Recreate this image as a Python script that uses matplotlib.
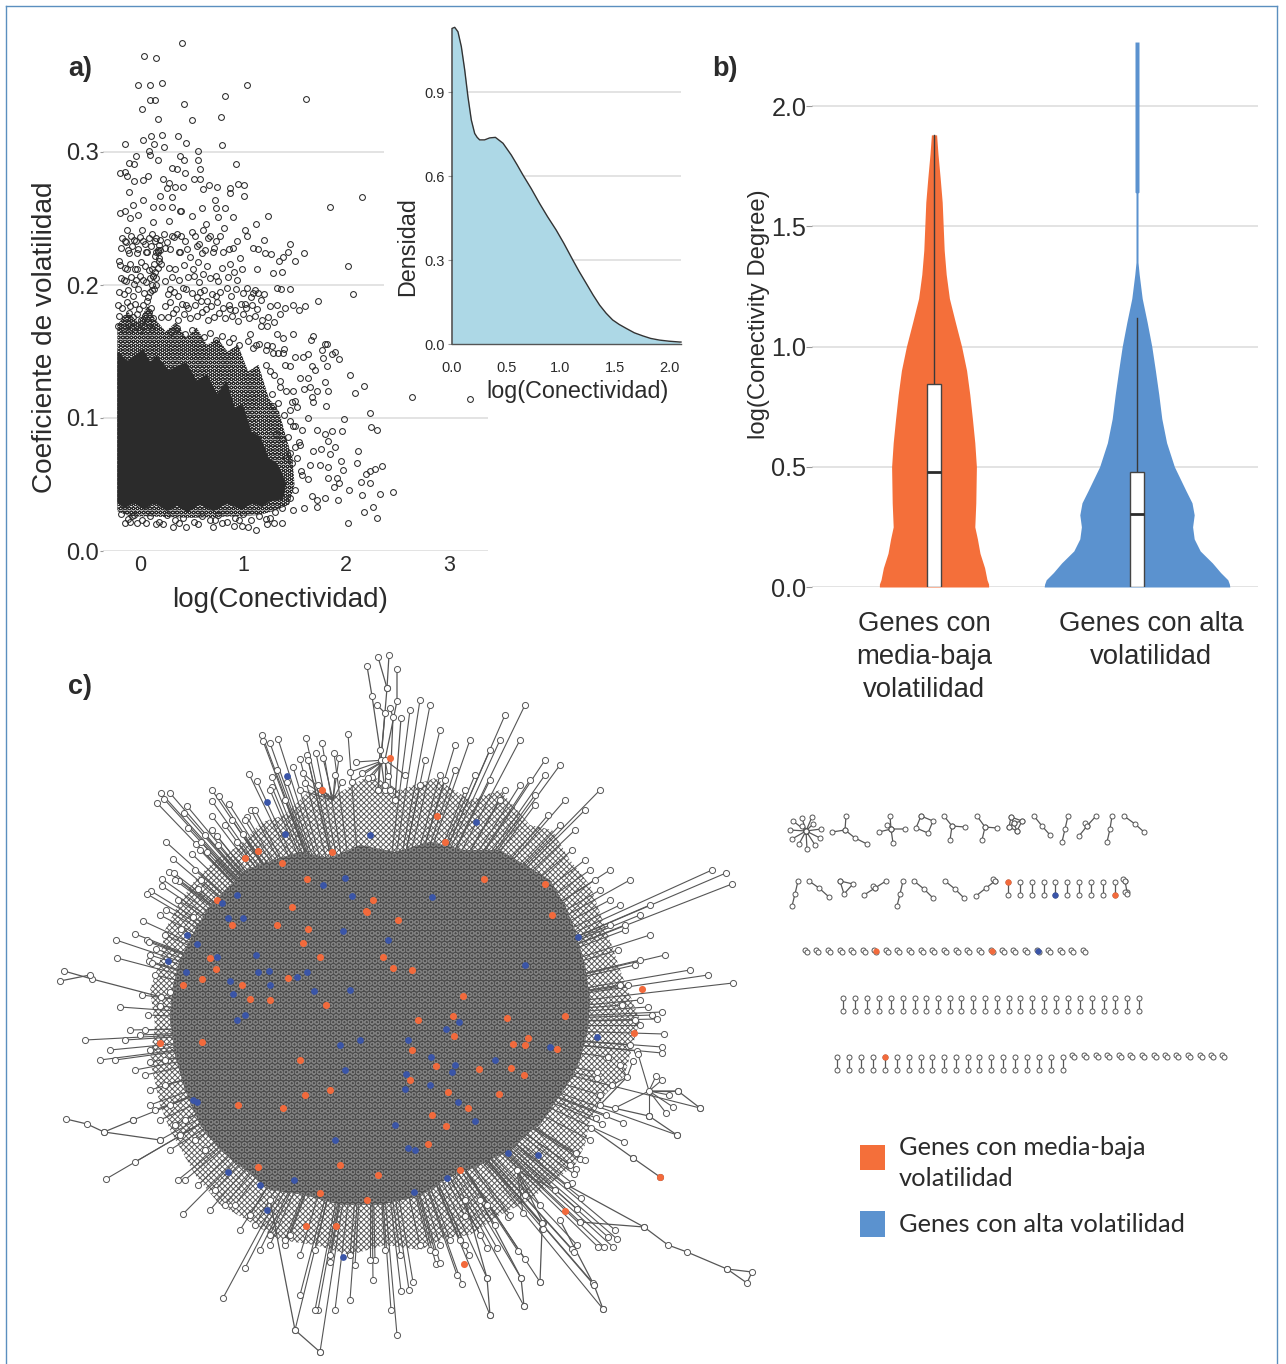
import numpy as np
import matplotlib
matplotlib.use('Agg')
import matplotlib.pyplot as plt
from matplotlib.patches import Polygon, Rectangle
from matplotlib.lines import Line2D
from matplotlib.collections import LineCollection

W, H = 1286, 1364
plt.rcParams['font.family'] = ['Liberation Sans', 'DejaVu Sans']
plt.rcParams['hatch.linewidth'] = 0.7

ORANGE = '#f46f3a'
BLUE = '#5b92cf'
NODE_BLUE = '#3a55a8'
DARK = '#2b2b2b'
GRID = '#dedede'

#### a) scatter, sparse points
scatter_x = [.41,.04,.16,-.02,.10,.21,1.04,.83,1.61,.10,.15,.02,.43,.17,.50,.79,.03,.11,.21,.37,.45,-.15,.14,.23,.80,.56,.09,-.04,.10,.39,.43,.56,.17,.93,
             -.11,-.06,.31,.36,.44,.58,-.19,-.15,-.13,-.06,.03,.08,.22,.28,.52,.58,
             2.155,1.84,2.02,2.065,2.64,3.2,2.04,2.17,2.09,2.23,1.98,2.24,2.30,1.96,2.12,2.11,2.35,2.28,2.23,2.19,2.15,2.23,2.46,2.33,2.16,2.03,1.92,2.26,2.17,2.30,2.02,
             1.73,1.59,1.46,1.44,1.39,1.35,1.50,1.38,1.29,1.20,1.13,1.24,1.10,1.15,1.21,1.27,1.14,
             1.46,1.33,1.37,1.49,1.60,1.41,1.33,1.54,1.36,
             1.80,1.82,1.68,1.66,1.89,1.86,1.77,1.93,1.78,1.82,1.63,1.58,1.50,1.67,1.70,1.46,1.41,1.63,1.55,1.80,1.72,1.83,1.65,1.59,1.49,1.67,1.81,1.68,1.50,1.63,1.72,1.80,1.86,1.83,1.89,1.76,1.68,1.84,1.75,1.83,1.95,1.97,1.63,1.83,1.91,1.93,1.88,1.80,1.67,1.72,1.72,1.59,1.49,1.38,1.23,1.13,1.05,.99,.91,.73,.71,.45,.32,.16,-.03,-.10,1.38,1.31,
             .60,.74,.83,.76,.90,.64,.50,.61,.68,.78,.82,.94,.86,.71,.60,.49,.97,.91,.74,.61,.47,.34,.39,.29,.31,.36,.40,.28,.39,.50,
             .67,.75,.87,.95,1.01,1.01,.87,.73,.61,.42,.34,.26,.31,.19,.03,-.07,-.11,-.19,-.15,-.10,-.02,.13,.21,.31,.40,-.13,.02,.13,.23,-.15,-.06,.03,.15,-.20,-.11,-.03,.06,.16,.18,-.13,-.03,-.16,-.06,.03,.13,
             1.02,1.04,.84,1.04,1.10,1.15,1.17,1.02,.87,.74,.58,.42,.29,.65,.45,
             1.17,1.23,1.33,1.39,1.49,1.23,1.13,1.07,1.29,1.39,1.26,1.36,1.46,1.29,1.49,1.57,1.55,1.46,1.65,1.57]
scatter_y = [.382,.372,.371,.350,.350,.352,.350,.342,.340,.339,.339,.332,.336,.325,.324,.326,.309,.312,.313,.312,.307,.306,.306,.304,.305,.301,.301,.297,.298,.297,.294,.294,.294,.291,
             .292,.291,.288,.287,.284,.287,.284,.285,.282,.278,.279,.282,.280,.277,.280,.280,
             .266,.259,.214,.193,.116,.114,.132,.124,.119,.104,.099,.093,.091,.090,.075,.066,.064,.062,.060,.058,.052,.051,.044,.043,.042,.046,.038,.033,.029,.025,.021,
             .188,.224,.231,.225,.221,.218,.218,.210,.209,.234,.246,.252,.228,.227,.224,.223,.212,
             .197,.198,.197,.185,.184,.183,.185,.181,.178,
             .156,.156,.162,.159,.150,.148,.151,.144,.145,.139,.148,.146,.146,.139,.136,.139,.140,.130,.130,.127,.120,.120,.123,.122,.120,.116,.109,.112,.113,.100,.091,.088,.090,.083,.078,.077,.075,.073,.065,.063,.068,.061,.054,.055,.055,.051,.048,.040,.041,.038,.033,.032,.031,.021,.020,.016,.018,.019,.019,.023,.018,.018,.018,.020,.021,.022,.032,.029,
             .258,.258,.258,.251,.251,.246,.252,.241,.237,.237,.243,.233,.227,.225,.224,.221,.220,.210,.207,.208,.206,.212,.225,.227,.237,.238,.237,.248,.256,.240,
             .275,.274,.273,.276,.275,.267,.269,.264,.272,.274,.274,.273,.266,.267,.264,.260,.270,.254,.256,.250,.253,.259,.259,.259,.256,.241,.241,.247,.238,.233,.234,.233,.233,.218,.224,.224,.225,.225,.220,.212,.212,.204,.201,.204,.207,
             .241,.237,.198,.198,.194,.194,.189,.186,.182,.192,.195,.198,.197,.188,.185,
             .169,.169,.163,.160,.163,.155,.155,.163,.149,.149,.135,.123,.106,.109,.094,.091,.080,.074,.065,.057]
# busier zone above the solid part
busy_x = [-.17,-.14,-.09,-.04,.0,.05,.09,.12,.19,.26,.33,.44,.53,.57,.66,.74,-.18,-.12,-.08,-.02,.07,.11,.17,.24,.38,.46,.55,.63,.72,.81,.9,
          -.19,-.15,-.1,-.05,.01,.05,.09,.2,.28,.43,.51,.56,.65,.8,.87,.99,-.18,-.14,-.09,-.04,.0,.06,.1,.24,.31,.38,.52,.57,.68,.76,.85,.94,
          -.2,-.16,-.12,-.07,-.02,.04,.08,.12,.27,.33,.37,.45,.5,.55,.62,.7,.78,.88,.93,1.0,1.08,1.12,1.2,
          -.21,-.17,-.13,-.1,-.05,-.01,.03,.07,.11,.24,.29,.35,.41,.47,.53,.59,.64,.69,.75,.81,.86,.92,.98,1.03,1.09,1.14,1.26,
          -.2,-.15,-.11,-.07,-.03,.01,.05,.09,.13,.27,.32,.37,.43,.49,.55,.6,.66,.72,.77,.83,.89,.95,1.0,1.06,1.12,1.18,1.24,1.3,
          -.21,-.16,-.12,-.08,-.04,0,.04,.08,.12,.2,.3,.36,.44,.5,.62,.68,.74,.8,.86,.9,.96,1.05,1.1,1.16,1.22,1.28,1.34,1.4,
          .16,.18,.17,.15,.18,.17,.15,.13,.16,.12,.14,.1,.19,.14,.16,.12,
          -.18,-.12,-.06,.02,.1,.18,.26,.34,.42,.52,.6,.68,.76,.84,.92,1.0,1.08,1.16,1.22,1.3,-.15,-.08,.06,.22,.38,.56,.8,.96,1.26,
          1.22,1.3,1.36,1.42,1.48,1.52,1.28,1.34,1.4,1.46,1.5,1.32,1.38,1.44,1.5,1.54,1.42,1.48,1.52,1.56,1.5,1.46]
busy_y = [.235,.232,.237,.233,.236,.231,.235,.238,.234,.232,.236,.233,.237,.231,.235,.233,.228,.226,.229,.227,.225,.229,.226,.228,.225,.227,.229,.226,.228,.225,.228,
          .215,.213,.216,.212,.217,.214,.211,.216,.213,.215,.212,.217,.214,.213,.216,.212,.205,.203,.206,.204,.207,.202,.205,.203,.206,.204,.207,.202,.205,.203,.206,.204,
          .195,.193,.196,.192,.197,.194,.191,.196,.193,.195,.192,.197,.194,.191,.196,.193,.195,.192,.197,.194,.191,.196,.193,
          .185,.183,.187,.184,.186,.182,.185,.188,.183,.184,.187,.182,.186,.183,.185,.188,.182,.184,.187,.183,.185,.181,.186,.183,.185,.182,.184,
          .177,.175,.179,.176,.178,.174,.177,.18,.175,.176,.179,.174,.178,.175,.177,.18,.174,.176,.179,.175,.177,.173,.178,.175,.177,.174,.176,.172,
          .169,.167,.171,.168,.17,.166,.169,.172,.167,.176,.165,.168,.163,.166,.161,.164,.159,.162,.157,.16,.155,.158,.153,.156,.151,.154,.149,.152,
          .235,.23,.225,.222,.218,.213,.21,.207,.205,.2,.197,.195,.226,.216,.2,.212,
          .028,.024,.027,.023,.026,.022,.027,.023,.025,.022,.026,.023,.027,.022,.025,.028,.023,.026,.024,.021,.021,.026,.021,.02,.021,.02,.021,.023,.025,
          .14,.132,.128,.12,.112,.108,.118,.111,.102,.098,.094,.088,.084,.086,.078,.082,.07,.066,.07,.06,.046,.04]

# outlines of the areas where the points merge together
core_x = [-.22,-.22,-.12,.03,.1,.16,.28,.45,.55,.65,.75,.84,.92,1.0,1.08,1.17,1.25,1.33,1.38,1.42,1.39,1.25,1.18,1.10,.98,.85,.71,.58,.46,.36,.26,.14,.04,-.06,-.15]
core_y = [.036,.150,.143,.152,.142,.147,.136,.142,.128,.133,.118,.128,.108,.110,.09,.086,.07,.066,.058,.051,.039,.037,.033,.036,.031,.036,.03,.035,.029,.034,.03,.036,.031,.036,.032]
dense_x = [-.22,-.22,-.12,-.02,.08,.14,.25,.35,.45,.55,.65,.75,.85,.95,1.05,1.15,1.25,1.35,1.42,1.48,1.5,1.45,1.3,1.15,.9,.5,.1,-.1]
dense_y = [.03,.17,.18,.172,.185,.175,.165,.172,.16,.168,.155,.16,.15,.155,.135,.14,.115,.105,.085,.07,.05,.035,.03,.027,.026,.025,.026,.026]

a_ticks_y = [0.0, 0.1, 0.2, 0.3]
a_ticks_x = [0, 1, 2, 3]

#### a) inset density
dens_x = [0,.025,.055,.086,.117,.147,.178,.209,.232,.255,.30,.347,.40,.47,.546,.60,.653,.73,.807,.88,.96,1.03,1.113,1.17,1.236,1.30,1.36,1.42,1.48,1.54,1.604,1.68,1.758,1.83,1.911,2.0,2.1]
dens_y = [1.127,1.131,1.115,1.062,.979,.883,.80,.752,.738,.729,.729,.736,.738,.717,.675,.64,.604,.555,.502,.455,.407,.36,.30,.26,.217,.175,.139,.11,.086,.07,.056,.04,.029,.02,.014,.01,.007]

#### b) violins
orange_y = [0,.012,.03,.08,.14,.2,.25,.35,.5,.6,.7,.8,.9,1.0,1.1,1.2,1.3,1.4,1.5,1.6,1.7,1.8,1.88]
orange_w = [.273,.273,.265,.253,.23,.217,.204,.209,.212,.204,.192,.179,.163,.138,.107,.077,.061,.051,.046,.041,.031,.02,.013]
blue_y = [0,.012,.03,.06,.1,.15,.2,.25,.3,.35,.4,.5,.6,.7,.8,.9,1.0,1.1,1.2,1.3,1.35,1.638,1.642,2.266]
blue_w = [.464,.462,.454,.418,.377,.316,.286,.278,.286,.275,.245,.187,.148,.124,.109,.092,.074,.051,.026,.011,.005,.005,.01,.01]
violin_pos = [1.015, 2.03]
box_q3 = [.845, .477]
box_median = [.477, .304]
whisker_top = [1.88, 1.117]
b_labels = ['Genes con\nmedia-baja\nvolatilidad', 'Genes con alta\nvolatilidad']

#### c) network layout, in layout units
core_lx = [250,280,300,330,360,395,430,465,500,530,550,565,575,585,590,588,580,572,560,540,525,510,480,450,420,380,340,305,270,245,220,200,185,175,170,172,180,195,210,230]
core_ly = [868,858,852,858,845,852,842,850,850,868,880,905,930,965,1000,1030,1060,1078,1095,1125,1135,1150,1165,1177,1196,1205,1205,1195,1190,1170,1150,1125,1090,1055,1020,990,960,930,905,885]
halo_lx = [240,262,285,310,335,370,400,435,470,500,530,552,570,590,610,622,640,632,625,605,590,585,575,555,530,500,470,445,420,385,350,315,280,250,220,195,170,160,150,155,150,160,165,178,195,215]
halo_ly = [845,822,815,790,795,775,790,778,800,790,825,830,860,885,940,975,1020,1048,1075,1095,1120,1145,1165,1180,1200,1215,1235,1238,1250,1245,1255,1245,1240,1222,1205,1175,1130,1105,1060,1025,990,960,930,905,880,860]

# where the spokes meet: the middle of the blob, and a few small local hubs
centre_l = (370, 1025)
hub_x = [649,627,333,385,517]
hub_y = [1091,1077,800,760,1170]
hub_reach = [40,22,45,40,45]

leaf_x = [348,356,306,322,262,278,263,270,300,307,316,323,334,339,308,277,293,249,257,272,272,287,305,303,342,352,362,372,388,
          212,219,161,170,164,157,187,212,229,184,212,251,247,232,188,212,205,217,166,196,201,173,192,207,243,237,169,174,162,179,162,151,147,201,198,166,143,181,193,135,116,147,149,156,117,149,152,161,170,160,120,
          622,648,662,652,657,640,664,662,662,637,638,633,608,597,597,656,662,678,669,700,673,666,649,615,623,677,602,596,624,580,576,576,574,572,567,581,577,580,615,608,617,613,604,598,577,572,574,593,594,603,540,543,542,523,508,487,465,469,525,518,497,487,521,524,487,490,462,457,436,440,413,409,401,
          133,135,106,183,178,223,245,295,320,397,318,335,350,260,270,300,315,285,355,391,373,160,175,185,150,125,110,85,100,115,135,150,165,130,145,155,170,195,205,215,235,250,290,330,375,430,440,460,
          726,732,712,650,640,650,625,708,733,690,665,640,620,620,610,600,590,560,545,525,505,545,530,565,600,585,575,520,500,490,470,455,440,430,420,410,425,445,465,500,535,610,630,
          285,300,318,335,350,368,385,405,420,440,455,475,490,505,520,535,548,560,572,585,595,610,625,618,635,628,640,635,630,620,612,600,606,590,585,570,555,540,525,510,495,480,465,450,435,420,400,385,370,350,330,315,300,285,270,255,240,225,210,198,185,170,180,160,150,165,145,150,140,148,142,155,150,165,160,178,175,195,200,218,225,245,255,270]
leaf_y = [734,762,738,743,735,739,741,743,759,755,753,758,753,758,760,770,767,774,781,777,787,782,783,773,782,782,773,777,776,
          790,796,793,793,799,803,806,801,804,813,816,810,817,820,828,830,835,836,842,844,842,859,854,852,834,842,872,873,879,881,886,891,894,880,889,910,921,929,917,934,940,940,942,949,958,961,963,997,992,1006,1007,
          1005,1007,1012,1015,1019,1025,1034,1047,1053,1051,1054,1061,1057,1072,1078,1076,1080,1091,1095,1108,1107,1113,1116,1108,1123,1135,1124,1118,1142,1159,1153,1169,1174,1183,1185,1198,1209,1222,1230,1237,1239,1247,1247,1247,1245,1249,1252,1283,1285,1309,1282,1229,1223,1213,1217,1205,1216,1255,1259,1251,1248,1248,1278,1306,1278,1315,1284,1275,1264,1263,1282,1290,1291,
          1120,1162,1179,1214,1180,1298,1268,1330,1352,1335,1310,1310,1300,1250,1235,1295,1310,1245,1265,1310,1280,1140,1125,1120,1090,1040,1050,1040,1060,1060,1070,1062,1060,1030,1030,1110,1105,1140,1150,1190,1205,1215,1235,1255,1260,1250,1245,1240,
          873,884,870,905,915,935,930,975,983,970,955,960,985,905,925,890,870,765,760,705,715,775,780,800,790,810,830,740,740,750,740,745,730,705,700,710,760,780,790,800,795,870,880,
          800,790,785,775,772,778,785,775,785,775,770,775,780,790,785,805,815,825,850,860,880,900,925,950,965,985,1000,1020,1045,1065,1085,1095,1115,1140,1160,1165,1190,1205,1195,1215,1225,1235,1245,1240,1252,1245,1255,1250,1260,1255,1262,1250,1255,1240,1245,1225,1230,1205,1210,1185,1180,1150,1135,1120,1105,1085,1075,1050,1035,1015,995,975,955,935,915,900,880,870,850,845,825,820,810,790]

chain_lines = [
    ([378,387,381,385],[657,688,760,790]), ([389,387],[655,688]), ([367,372,380,378],[666,696,750,790]),
    ([397,397,385],[669,701,760]), ([377,385,378],[705,713,790]), ([390,393,390],[708,717,790]), ([401,395],[718,800]),
    ([64,92,161],[971,979,997]), ([60,90],[981,975]), ([66,87,104,160],[1119,1124,1132,1140]), ([104,133],[1132,1120]),
    ([567,644,668,687,727,752,747,727],[1185,1227,1245,1252,1269,1272,1283,1269]),
    ([591,633],[1128,1158]), ([580,644],[1222,1227]), ([660,633],[1177,1158]),
    ([540,542,543,517],[1282,1229,1223,1170]), ([603,594,560],[1309,1285,1220]), ([524,521,480],[1306,1278,1200]),
    ([490,487,465],[1315,1278,1200]), ([320,295,270],[1352,1330,1200]),
    ([700,678,649],[1108,1091,1091]), ([677,649],[1135,1116]), ([649,600,627],[1116,1105,1077]),
]

orange_lx = [245,258,217,210,183,160,202,390,322,437,445,484,545,552,373,366,398,393,383,412,463,453,642,634,511,524,660,565,464,306,336,367,320,258,340,378,283,305,330,410,460,238,418,300,270,
             277,367,320,303,308,292,307,332,282,232,216,202,242,250,288,326,507,565,454,528,513,525,557,412,436,479,499,448,468,432,446,428]
orange_ly = [858,851,900,958,985,1043,1042,758,790,816,842,879,884,915,900,911,920,968,957,970,996,1016,989,1033,1068,1075,1177,1211,1264,1226,1226,1200,1193,1167,1165,1175,1108,1095,1090,1080,1170,1105,1020,1060,1000,
             925,912,957,943,929,907,879,852,863,925,969,979,985,999,978,1005,1018,1016,1036,1038,1044,1045,1049,1050,1066,1069,1094,1092,1108,1115,1126,1144]
blue_lx = [287,267,285,228,237,187,168,186,256,258,270,245,237,197,193,228,260,294,267,343,335,345,340,360,323,370,432,476,525,578,550,597,447,508,538,415,395,430,455,495,350,
           345,352,343,388,269,297,307,314,230,233,217,197,243,222,459,446,408,431,452,406,405,458,475,408,414]
blue_ly = [776,802,834,918,895,935,961,972,955,972,985,1015,1020,1102,1100,1172,1185,1180,1210,1257,1140,1070,1045,1040,885,835,897,822,965,937,1047,1037,1178,1153,1155,1150,1125,1085,1065,1060,990,
           878,896,931,940,971,977,972,991,981,994,957,944,918,903,1022,1029,1040,1057,1072,1074,1089,1102,1121,1148,1192]

# small separate components, right of the main network
small_chains = [
    ([806,793],[831,821]),([806,802],[831,818]),([806,812],[831,817]),([806,813],[831,824]),([806,821],[831,829]),([806,820],[831,838]),
    ([806,815],[831,845]),([806,807],[831,849]),([806,799],[831,844]),([806,792],[831,839]),([806,790],[831,830]),([806,802],[831,826]),
    ([846,845,855,867],[816,830,838,844]),([832,845],[832,830]),
    ([890,891,905],[816,829,829]),([879,891,893],[832,829,843]),([891,887],[829,825]),
    ([921,933,928,916,921],[816,821,833,828,816]),
    ([944,952,965],[816,826,827]),([952,950],[826,840]),
    ([977,985,997],[816,827,828]),([985,982],[827,840]),
    ([1011,1022,1017,1009,1011,1017],[817,821,831,827,817,831]),([1014,1022],[823,821]),([1014,1009],[823,827]),
    ([1034,1042,1050],[816,826,835]),([1068,1065,1062],[816,829,842]),
    ([1096,1087,1079],[816,826,836]),([1085,1087],[823,826]),
    ([1112,1110,1107],[816,829,842]),([1124,1135,1144],[816,824,832]),
    ([798,795,792],[881,894,906]),([809,819,829],[881,888,897]),
    ([840,853,844,840],[881,884,894,881]),
    ([886,875,864],[881,888,895]),([873,875],[886,888]),
    ([903,900,897],[881,894,906]),([914,924,933],[881,889,898]),([945,955,964],[881,889,898]),
    ([995,986,976],[881,888,896]),([993,995],[879,881]),
    ([1125,1127],[881,892]),([1123,1125],[879,881]),([1125,1127],[892,894]),
]
row2_pair_x = [1008,1020,1032,1044,1055,1067,1079,1091,1103,1115]
row4_pair_x = [843,855,867,879,891,903,915,926,938,950,961,973,985,997,1009,1020,1032,1044,1056,1068,1080,1092,1104,1115,1127,1139]
row5_pair_x = [837,849,861,873,885,897,909,921,932,944,956,968,979,991,1003,1015,1027,1039,1051,1063]
row3_loop_x = [806,817,829,841,852,864,875,887,898,910,922,933,945,957,968,980,992,1003,1014,1026,1038,1049,1061,1072,1084]
row5_loop_x = [1073,1085,1097,1108,1120,1131,1143,1155,1166,1177,1189,1201,1212,1223]
small_orange_x = [1008,1115,876,992,885]
small_orange_y = [882,895,951,951,1057]
small_blue_x = [1055,1038]
small_blue_y = [895,951]

legend_labels = ['Genes con media-baja\nvolatilidad', 'Genes con alta volatilidad']


def px_axes(fig, left, top, right, bottom):
    return fig.add_axes([left / W, 1 - bottom / H, (right - left) / W, (bottom - top) / H])


fig = plt.figure(figsize=(W / 100, H / 100), dpi=100, facecolor='white')

#%% c) network, on a full figure axes
ax_c = fig.add_axes([0, 0, 1, 1])
ax_c.set_xlim(0, W)
ax_c.set_ylim(H, 0)
ax_c.axis('off')
LINE = '#565656'
ax_c.add_patch(Polygon(np.column_stack([halo_lx, halo_ly]), closed=True, facecolor='white', edgecolor='#5c5c5c', lw=0, hatch='xxxxxx', zorder=1))
ax_c.add_patch(Polygon(np.column_stack([core_lx, core_ly]), closed=True, facecolor='#4c4c4c', edgecolor='#808080', lw=0, hatch='OOO', zorder=3))

# every leaf runs to a local hub if one is close, otherwise in towards the blob
segs = []
for a, b in zip(leaf_x, leaf_y):
    target = centre_l
    for hx, hy, reach in zip(hub_x, hub_y, hub_reach):
        if (a - hx) ** 2 + (b - hy) ** 2 < reach ** 2:
            target = (hx, hy)
    segs.append([(a, b), target])
ax_c.add_collection(LineCollection(segs, colors=LINE, linewidths=0.8, zorder=2))
for cx, cy in chain_lines:
    ax_c.plot(cx, cy, color=LINE, lw=0.9, zorder=2)
    ax_c.plot(cx, cy, ls='', marker='o', ms=4.4, mfc='white', mec=LINE, mew=0.7, zorder=4)
ax_c.plot(leaf_x, leaf_y, ls='', marker='o', ms=4.4, mfc='white', mec=LINE, mew=0.7, zorder=4)
ax_c.scatter(orange_lx, orange_ly, s=26, color='#f26a3c', lw=0, zorder=5)
ax_c.scatter(blue_lx, blue_ly, s=24, color=NODE_BLUE, lw=0, zorder=5)

# small components
for cx, cy in small_chains:
    ax_c.plot(cx, cy, color=LINE, lw=0.9, zorder=2)
    ax_c.plot(cx, cy, ls='', marker='o', ms=3.6, mfc='white', mec=LINE, mew=0.7, zorder=4)
for xs, top, bottom in [(row2_pair_x, 882, 895), (row4_pair_x, 998, 1011), (row5_pair_x, 1057, 1070)]:
    for x in xs:
        ax_c.plot([x, x], [top, bottom], color=LINE, lw=0.9, marker='o', ms=3.6, mfc='white', mec=LINE, mew=0.7, zorder=3)
for xs, y in [(row3_loop_x, 951), (row5_loop_x, 1056)]:
    ax_c.plot(np.array(xs) - 1, np.full(len(xs), y - 1), ls='', marker='o', ms=3.6, mfc='white', mec=LINE, mew=0.7, zorder=3)
    ax_c.plot(np.array(xs) + 1, np.full(len(xs), y + 1), ls='', marker='o', ms=3.6, mfc='white', mec=LINE, mew=0.7, zorder=3)
ax_c.scatter(small_orange_x, small_orange_y, s=20, color='#f26a3c', lw=0, zorder=5)
ax_c.scatter(small_blue_x, small_blue_y, s=20, color=NODE_BLUE, lw=0, zorder=5)

# legend
ax_c.add_patch(Rectangle((860, 1145), 25, 25, color=ORANGE, lw=0))
ax_c.add_patch(Rectangle((860, 1211), 25, 26, color=BLUE, lw=0))
ax_c.text(899, 1163, legend_labels[0], family='Lato', fontsize=18.3, color=DARK, va='center', linespacing=1.45)
ax_c.text(899, 1225, legend_labels[1], family='Lato', fontsize=18.3, color=DARK, va='center')

# panel letters
for letter, x, y in [('a)', 68, 69), ('b)', 712, 69), ('c)', 68, 687)]:
    ax_c.text(x, y, letter, fontsize=19.5, fontweight='bold', color=DARK, va='center')

#%% a) scatter
ax_a = px_axes(fig, 103, 30, 488, 551)
ax_a.patch.set_alpha(0)
ax_a.set_xlim((103 - 140) / 103, (488 - 140) / 103)
ax_a.set_ylim(0, (551 - 30) / 1330)
ax_a.hlines(a_ticks_y, ax_a.get_xlim()[0], [3.38, 3.38, 2.37, 2.37], color=GRID, lw=1.2, zorder=0)
ax_a.add_patch(Polygon(np.column_stack([dense_x, dense_y]), closed=True, facecolor='#f4f4f4', edgecolor=DARK, lw=0, hatch='OOOO', zorder=1))
ax_a.add_patch(Polygon(np.column_stack([core_x, core_y]), closed=True, facecolor=DARK, edgecolor=DARK, lw=0, zorder=2))
ax_a.plot(busy_x, busy_y, ls='', marker='o', ms=4.2, mfc='none', mec=DARK, mew=0.75, zorder=3)
ax_a.plot(scatter_x, scatter_y, ls='', marker='o', ms=4.2, mfc='none', mec=DARK, mew=0.75, zorder=3, clip_on=False)
for s in ax_a.spines.values():
    s.set_visible(False)
ax_a.set_xticks(a_ticks_x)
ax_a.set_yticks(a_ticks_y)
ax_a.set_yticklabels(['0.0', '0.1', '0.2', '0.3'])
ax_a.tick_params(axis='y', length=2, color='#999999', labelsize=17, labelcolor=DARK, pad=1)
ax_a.tick_params(axis='x', length=0, labelsize=15.5, labelcolor=DARK, pad=3)
ax_a.set_xlabel('log(Conectividad)', fontsize=20, color=DARK, labelpad=8, x=0.46)
ax_a.set_ylabel('Coeficiente de volatilidad', fontsize=20.2, color=DARK, labelpad=6, y=0.41)

#%% a) inset
ax_i = px_axes(fig, 452, 20, 681, 344)
ax_i.patch.set_alpha(0)
ax_i.set_xlim(0, 2.11)
ax_i.set_ylim(0, 324 / 280)
ax_i.hlines([.3, .6, .9], 0, 2.11, color=GRID, lw=1.2, zorder=0)
ax_i.fill_between(dens_x, 0, dens_y, color='#add8e6', lw=0, zorder=1)
ax_i.plot([0] + dens_x + [2.11], [0] + dens_y + [0.007], color='#333333', lw=1, zorder=2, clip_on=False)
ax_i.plot([0, 2.11], [0, 0], color='#555555', lw=1, zorder=2, clip_on=False)
for s in ax_i.spines.values():
    s.set_visible(False)
ax_i.set_xticks([0, .5, 1, 1.5, 2])
ax_i.set_xticklabels(['0.0', '0.5', '1.0', '1.5', '2.0'])
ax_i.set_yticks([0, .3, .6, .9])
ax_i.tick_params(axis='both', labelsize=10.5, labelcolor=DARK, length=3, color='#999999', pad=2)
ax_i.tick_params(axis='x', length=0, pad=12)
ax_i.set_xlabel('log(Conectividad)', fontsize=16.8, color=DARK, labelpad=4, x=0.55)
ax_i.set_ylabel('Densidad', fontsize=16.8, color=DARK, labelpad=4, y=0.3)

#%% b) violins
ax_b = px_axes(fig, 812, 42, 1258, 587)
ax_b.patch.set_alpha(0)
ax_b.set_xlim(0.405, 2.635)
ax_b.set_ylim(0, 545 / 240.5)
ax_b.hlines([0, .5, 1, 1.5, 2], 0.405, 2.635, color=GRID, lw=1.2, zorder=0)
for pos, ys, ws, col in [(violin_pos[0], orange_y, orange_w, ORANGE), (violin_pos[1], blue_y, blue_w, BLUE)]:
    ws = np.array(ws)
    ax_b.fill_betweenx(ys, pos - ws, pos + ws, color=col, lw=0, zorder=1)
for i, pos in enumerate(violin_pos):
    ax_b.plot([pos, pos], [box_q3[i], whisker_top[i]], color='#3a3a3a', lw=1, zorder=2)
    ax_b.add_patch(Rectangle((pos - .036, 0), .072, box_q3[i], facecolor='white', edgecolor='#444444', lw=1, zorder=3))
    ax_b.plot([pos - .036, pos + .036], [box_median[i]] * 2, color=DARK, lw=2, zorder=4, solid_capstyle='butt')
for s in ax_b.spines.values():
    s.set_visible(False)
ax_b.set_yticks([0, .5, 1, 1.5, 2])
ax_b.set_yticklabels(['0.0', '0.5', '1.0', '1.5', '2.0'])
ax_b.set_xticks([0.965, 2.1])
ax_b.set_xticklabels(b_labels, linespacing=1.35)
ax_b.tick_params(axis='y', length=4, color='#999999', labelsize=18.2, labelcolor=DARK, pad=0)
ax_b.tick_params(axis='x', length=0, labelsize=19.8, labelcolor=DARK, pad=17)
ax_b.set_ylabel('log(Conectivity Degree)', fontsize=17.2, color=DARK, labelpad=1, y=0.5)

# outer frame
for xs, ys in [([6, 6], [0, H - 6]), ([6, 1277], [H - 6, H - 6]), ([1277, 1277], [0, H - 6])]:
    fig.add_artist(Line2D(np.array(xs) / W, np.array(ys) / H, color='#5b8fbf', lw=1))

fig.savefig('out.png', dpi=100)
